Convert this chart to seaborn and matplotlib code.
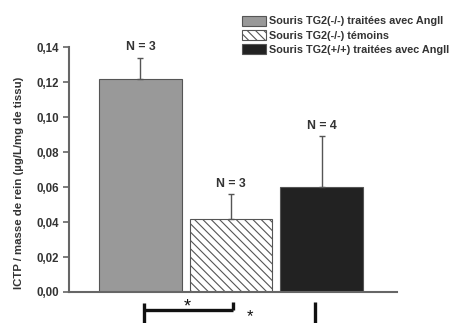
import numpy as np
import pandas as pd
import matplotlib
matplotlib.use("Agg")
import matplotlib.pyplot as plt
import matplotlib.transforms as mtransforms
import seaborn as sns

# données
groups = [
    "Souris TG2(-/-) traitées avec AngII",
    "Souris TG2(-/-) témoins",
    "Souris TG2(+/+) traitées avec AngII",
]
means = [0.122, 0.042, 0.060]
errors = [0.012, 0.014, 0.029]
n_labels = ["N = 3", "N = 3", "N = 4"]
yticks = [0.00, 0.02, 0.04, 0.06, 0.08, 0.10, 0.12, 0.14]
ytick_labels = ["0,00", "0,02", "0,04", "0,06", "0,08", "0,10", "0,12", "0,14"]

df = pd.DataFrame({"groupe": groups, "valeur": means})

sns.set_style("white")
plt.rcParams["font.family"] = ["Liberation Sans", "DejaVu Sans"]
plt.rcParams["hatch.color"] = "#777777"
plt.rcParams["hatch.linewidth"] = 0.8

txt = "#333333"
axc = "#666666"

fig = plt.figure(figsize=(4.5, 3.23), dpi=100)
ax = fig.add_axes([0.153, 0.096, 0.729, 0.758])

sns.barplot(
    data=df, x="groupe", y="valeur", hue="groupe",
    palette=["#999999", "#ffffff", "#222222"],
    width=0.91, edgecolor="#555555", linewidth=0.8,
    legend=False, ax=ax,
)
ax.patches[1].set_hatch("\\\\\\\\")

x = np.arange(len(groups))
ax.errorbar(x, means, yerr=[np.zeros(len(means)), errors], fmt="none",
            ecolor="#555555", elinewidth=1.0, capsize=2.5, capthick=1.0)

for xi, m, e, lab in zip(x, means, errors, n_labels):
    ax.annotate(lab, (xi, m + e), xytext=(0, 3), textcoords="offset points",
                ha="center", va="bottom", fontsize=8.8, fontweight="bold",
                color=txt)

ax.set_xlim(-0.79, 2.83)
ax.set_ylim(0, 0.14)
ax.set_xticks([])
ax.set_yticks(yticks)
ax.set_yticklabels(ytick_labels, fontsize=8.3, fontweight="bold", color=txt)
ax.tick_params(axis="y", direction="out", length=4, width=1.2, color=axc, pad=3, left=True)
ax.set_xlabel("")
ax.set_ylabel("ICTP / masse de rein (µg/L/mg de tissu)", fontsize=8.2,
              fontweight="bold", color=txt)
ax.yaxis.set_label_coords(-0.137, 0.445)
for s in ["top", "right"]:
    ax.spines[s].set_visible(False)
for s in ["left", "bottom"]:
    ax.spines[s].set_color(axc)
    ax.spines[s].set_linewidth(1.5)

# crochets de significativité (coupés par le bord)
tr = mtransforms.blended_transform_factory(ax.transData, ax.transAxes)
bk = dict(color="#111111", lw=2.4, transform=tr, clip_on=False, solid_capstyle="butt")
ax.plot([0.04, 0.04], [-0.043, -0.15], **bk)
ax.plot([0.04, 1.02], [-0.074, -0.074], **bk)
ax.plot([1.02, 1.02], [-0.04, -0.074], **bk)
ax.plot([1.93, 1.93], [-0.04, -0.15], **bk)
ax.text(0.52, -0.08, "*", transform=tr, ha="center", va="baseline", fontsize=13, color="#111111")
ax.text(1.21, -0.118, "*", transform=tr, ha="center", va="baseline", fontsize=12, color="#111111")

handles = list(ax.patches[:3])
leg = fig.legend(handles, groups, loc="upper left", bbox_to_anchor=(0.529, 0.965),
                 frameon=False, fontsize=7.8, handlelength=2.2, handleheight=1.05,
                 handletextpad=0.25, labelspacing=0.32, borderaxespad=0)
for t in leg.get_texts():
    t.set_fontweight("bold")
    t.set_color(txt)

fig.savefig("out.png", dpi=100)
